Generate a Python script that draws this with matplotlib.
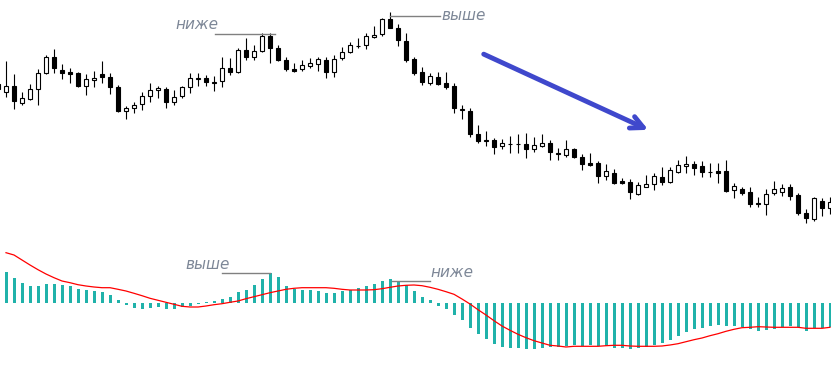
import numpy as np
import matplotlib
matplotlib.use('Agg')
import matplotlib.pyplot as plt

# candle data (arbitrary price units), first candle is cut by the left edge
opens = [156, 148.3, 154, 137.3, 141.3, 150.7, 167.3, 183.3, 170, 168, 166.7,
         154.3, 159.7, 166, 162.7, 152.7, 129.3, 131.7, 136, 144, 150,
         150.7, 137.7, 144, 153.3, 161.5, 162.3, 157.5, 159, 171.7, 168.3,
         190, 183.3, 189, 204, 191.7, 180, 171, 170.7, 174.3, 175.7,
         180, 167.7, 181.7, 188.3, 194, 195, 202.7, 205.7, 221, 212.3,
         199, 181, 168.3, 157, 163, 156.7, 154, 130.3, 129, 105.7,
         99.3, 100, 94, 96.3, 96, 95.8, 91, 94.3, 97.3, 86.3,
         85.5, 90.7, 83, 77, 77, 63.7, 67, 59, 58, 45.8,
         53.5, 55.7, 62.7, 58.3, 67.7, 74, 76, 74, 68.1, 69.3,
         69, 50, 51.2, 47.7, 36.3, 36.5, 47.3, 48.3, 52.7, 45,
         27, 20.7, 39, 31.7]
highs = [160, 179.3, 166, 147.7, 156, 170.7, 185, 191, 176, 171.7, 168.3,
         166, 168.7, 179.3, 166.7, 155, 134, 138.3, 148.3, 156.7, 154,
         153.3, 150, 154.3, 167.3, 166.7, 165, 164.3, 182.7, 181.7, 191.7,
         201.7, 195, 206.7, 206.7, 195, 183.3, 176.7, 180, 181.7, 183.3,
         183.3, 185, 193.3, 197.7, 202.3, 206.7, 214.3, 222.3, 228.3, 215.7,
         206.7, 183.3, 173, 166.7, 168.3, 168, 157, 135.5, 131.7, 115,
         109, 102, 101.5, 104, 106.3, 106.7, 103.3, 106.3, 100.3, 91.7,
         100, 91.7, 86.3, 87, 78.8, 75.7, 70.7, 62.2, 60.7, 58.3,
         65, 66.7, 73, 73.3, 80, 84, 79, 79, 77.3, 77,
         80, 57.3, 53, 52.7, 43.5, 51.3, 59, 56.2, 56, 46.7,
         30.7, 43.3, 41.7, 43]
lows = [148, 142.7, 130.7, 135, 140, 135, 165.7, 166.7, 160.7, 156.7, 152.7,
        144.7, 153.3, 156.7, 145.7, 128.3, 121, 127.3, 130, 138.3, 142.3,
        132.3, 135, 142.3, 146.7, 154.3, 154.3, 149.3, 153.3, 165, 166.7,
        180, 180, 187.7, 177.3, 179.5, 169, 168.3, 169.3, 171.7, 169.3,
        161.7, 163.3, 180, 186.7, 191.7, 190.7, 202.3, 204.3, 212.3, 194.3,
        178.3, 165, 155.5, 155, 155, 151, 127.3, 121.3, 103, 96.7,
        94.5, 86, 91, 87, 86.7, 81.7, 88.5, 93, 80.3, 80.3,
        83, 81.7, 70.3, 74.3, 57.3, 60, 56, 55.7, 41.3, 45,
        52.7, 49.7, 55.3, 56.7, 67.3, 67, 65, 63.3, 62.7, 57.3,
        48.3, 42.5, 45.5, 32.7, 33.3, 25, 45.3, 43.7, 40, 25.5,
        16.7, 19.3, 23.7, 26]
closes = [151, 154, 139.3, 141.7, 150.7, 166.7, 183.3, 171.7, 167.3, 166.3, 154.3,
          160.7, 162, 162.7, 152.7, 129.3, 131.7, 134.7, 144, 150, 152.3,
          137.7, 143.3, 153.3, 162.3, 162, 157.7, 158, 171.7, 167.7, 190,
          183.3, 189, 204, 192.3, 180, 170.7, 169, 175, 176.7, 181,
          167.7, 181, 188.3, 195, 194.5, 204, 205, 221, 212.3, 200,
          180, 166.7, 158, 164, 156.3, 153.3, 132.5, 130.7, 105.7, 99.3,
          99.7, 93, 97, 96.3, 96, 91, 95.3, 97, 88.3, 86.7,
          90.7, 82.7, 75.8, 75.3, 63.7, 68.7, 56.7, 57, 48.3, 54.7,
          55.7, 63.7, 58.3, 69.7, 75, 76, 72.3, 68.3, 68.5, 67.3,
          49.3, 54, 47.3, 36.5, 36.7, 45.7, 50.7, 52.5, 44.2, 27.3,
          21.7, 42, 31.7, 38.5]

# MACD histogram and signal line
macd_hist = [31, 25, 20, 17, 17, 19, 19, 18, 17, 14, 13, 12, 11, 8, 3,
             -2, -5, -6, -5, -4, -6, -6, -4, -3, -1, 1, 2, 4, 6, 11,
             13, 18, 24, 29.4, 25.4, 17, 14, 13, 13, 12, 10, 10, 12, 13, 15,
             17, 19, 22, 24, 22, 18, 12, 6, 3, -3, -6, -12, -17.3, -25, -31,
             -36, -41.7, -44, -45, -45, -46, -46, -45, -44, -44, -43, -42, -43, -42, -43,
             -43, -45, -45, -46, -45, -44, -42, -40, -37, -33, -29, -26, -25, -23, -22,
             -23, -23, -24, -26, -28, -27, -26, -24, -23, -24, -28, -25, -25, -24]
signal = [50, 47.7, 42.7, 37.7, 33, 28.7, 25, 21.7, 20, 18, 16.7, 15.7, 15, 15, 13.4,
          11.7, 9.4, 7, 4.4, 2.4, 0.4, -1.6, -3.6, -4.3, -4.3, -3.3, -2, -1, 0.4, 1.7,
          4, 6, 8, 10, 11.7, 13.4, 14.4, 15, 15, 15, 15, 14.4, 13.4, 12.7, 12.7,
          12.7, 13, 14, 15.4, 16.7, 17.4, 17.7, 17, 15.4, 13.4, 11, 8.4, 3.7, -1.3, -7,
          -12.3, -18, -23.3, -27.6, -31.6, -35, -38, -40.3, -42.6, -43.3, -44.3, -43.6, -43.6, -43.6, -43.6,
          -43, -42.6, -42.6, -43.3, -43.6, -43.6, -43.6, -43.3, -42.3, -41, -39, -37, -35.3, -33, -31,
          -28.6, -26.6, -25, -24.6, -24, -24.3, -24.6, -24.6, -24.6, -24.6, -25.6, -25.6, -25.6, -24.6]

W, H = 831, 368
fig = plt.figure(figsize=(W / 100, H / 100), dpi=100)
fig.patch.set_facecolor('white')

# price panel: top 230 px
ax = fig.add_axes([0, 138 / H, 1, 230 / H])
# indicator panel: bottom 138 px
ax2 = fig.add_axes([0, 0, 1, 138 / H])
for a in (ax, ax2):
    a.set_xlim(-0.75, 103.125)
    a.axis('off')
ax.set_ylim(10, 240)
ax2.set_ylim(-65.3, 72.7)

o = np.array(opens)
c = np.array(closes)
x = np.arange(-1, len(opens) - 1)
bull = c >= o

ax.vlines(x, lows, highs, color='black', linewidth=0.8, zorder=1)
ax.bar(x, np.abs(c - o), bottom=np.minimum(o, c), width=0.5,
       color=np.where(bull, 'white', 'black'), edgecolor='black',
       linewidth=0.8, zorder=2)

xm = np.arange(len(macd_hist))
ax2.bar(xm, macd_hist, width=0.375, color='#20b2aa', zorder=1)
ax2.plot(xm, signal, color='red', linewidth=0.9, zorder=2)

label_color = '#7d8797'
line_color = '#808080'
font = dict(fontsize=11, style='italic', color=label_color)

# upper labels
ax.plot([26.1, 33.6], [206, 206], color=line_color, linewidth=1)
ax.text(26.5, 208, 'ниже', ha='right', va='bottom', **font)
ax.plot([48, 54.2], [224, 224], color=line_color, linewidth=1)
ax.text(54.4, 225, 'выше', ha='left', va='center', **font)

# lower labels
ax2.plot([27, 33], [29.4, 29.4], color=line_color, linewidth=1)
ax2.text(28, 31, 'выше', ha='right', va='bottom', **font)
ax2.plot([48.3, 53], [22, 22], color=line_color, linewidth=1)
ax2.text(53, 23, 'ниже', ha='left', va='bottom', **font)

# trend arrow
ax.annotate('', xy=(80.6, 109), xytext=(59.4, 187),
            arrowprops=dict(arrowstyle='->,head_length=0.9,head_width=0.45',
                            color='#3f48cc', linewidth=3.5))

fig.savefig('out.png', dpi=100, facecolor='white')
